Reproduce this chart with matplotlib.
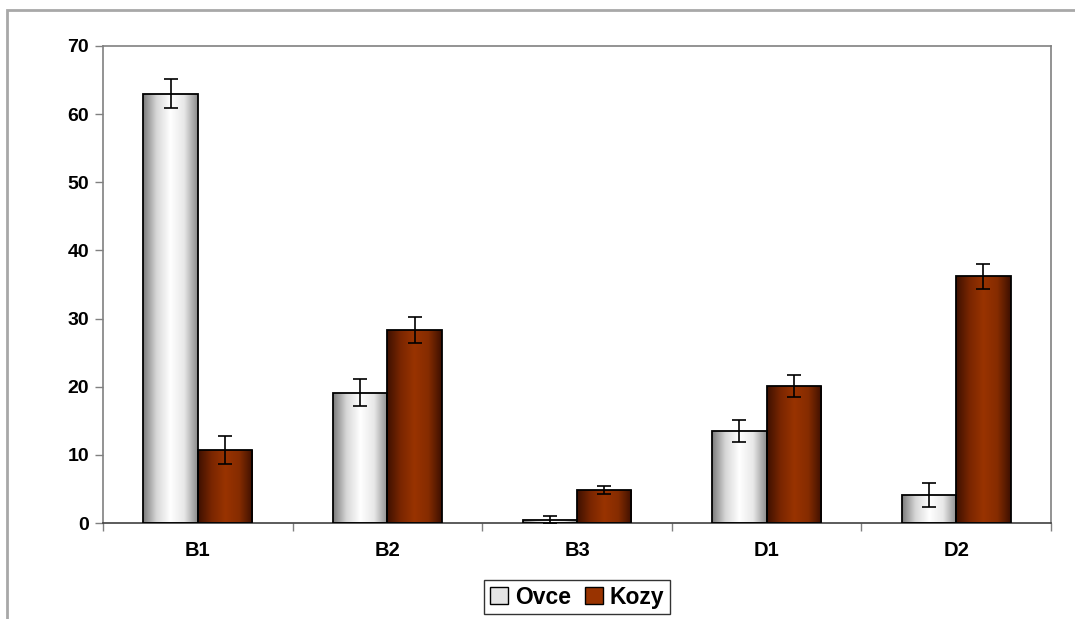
import matplotlib.pyplot as plt
import numpy as np
from matplotlib.patches import Rectangle, Patch
from matplotlib.colors import LinearSegmentedColormap

plt.rcParams['font.family'] = ['Liberation Sans', 'DejaVu Sans']
plt.rcParams['font.weight'] = 'bold'

categories = ['B1', 'B2', 'B3', 'D1', 'D2']
ovce = [63.0, 19.1, 0.4, 13.5, 4.1]
ovce_err = [2.1, 2.0, 0.6, 1.6, 1.8]
kozy = [10.7, 28.3, 4.8, 20.1, 36.2]
kozy_err = [2.0, 1.9, 0.6, 1.6, 1.8]

# gradients: dark edges, light middle
silver = LinearSegmentedColormap.from_list('silver', ['#7a7a7a', '#d8d8d8', '#ffffff', '#e8e8e8', '#8a8a8a'])
rust = LinearSegmentedColormap.from_list('rust', ['#3d1000', '#7a2600', '#993300', '#862c00', '#3d1000'])

fig = plt.figure(figsize=(10.75, 6.19), dpi=100)
ax = fig.add_axes([103 / 1075, 1 - 523 / 619, 948 / 1075, 477 / 619])

x = np.arange(len(categories))
w = 0.287
grad = np.linspace(0, 1, 256).reshape(1, -1)


def gradient_bars(xs, vals, cmap):
    bars = ax.bar(xs, vals, w, facecolor='none', edgecolor='black', linewidth=1.3, zorder=3)
    for b in bars:
        im = ax.imshow(grad, cmap=cmap, aspect='auto', zorder=2,
                       extent=[b.get_x(), b.get_x() + b.get_width(), 0, b.get_height()])
        im.set_clip_path(b)
    return bars


gradient_bars(x - w / 2, ovce, silver)
gradient_bars(x + w / 2, kozy, rust)
ax.errorbar(x - w / 2, ovce, yerr=ovce_err, fmt='none', ecolor='black', elinewidth=1.2, capsize=5, capthick=1.2, zorder=4)
ax.errorbar(x + w / 2, kozy, yerr=kozy_err, fmt='none', ecolor='black', elinewidth=1.2, capsize=5, capthick=1.2, zorder=4)

ax.set_xlim(-0.5, len(categories) - 0.5)
ax.set_ylim(0, 70)
ax.set_yticks(np.arange(0, 71, 10))
ax.tick_params(axis='y', labelsize=14, length=6, width=1, color='#808080', pad=4)
ax.set_xticks(np.arange(-0.5, len(categories), 1))
ax.set_xticklabels([])
ax.tick_params(axis='x', length=6, width=1, color='#808080')
ax.set_xticks(x, minor=True)
ax.set_xticklabels(categories, minor=True, fontsize=14.5)
ax.tick_params(axis='x', which='minor', length=0, pad=13)

for s in ax.spines.values():
    s.set_color('#808080')
    s.set_linewidth(1.2)
ax.spines['bottom'].set_color('#404040')

handles = [Patch(facecolor='#e4e4e4', edgecolor='black', label='Ovce'),
           Patch(facecolor='#993300', edgecolor='black', label='Kozy')]
leg = ax.legend(handles=handles, loc='upper center', bbox_to_anchor=(0.5, -0.095), ncol=2,
                fontsize=16.5, frameon=True, fancybox=False, edgecolor='black',
                handlelength=0.8, handleheight=0.8, handletextpad=0.3, columnspacing=0.6,
                borderpad=0.25)
leg.get_frame().set_linewidth(1.0)

# outer chart border (cropped at right and bottom)
fig.add_artist(Rectangle((7 / 1075, -0.1), 1.2, 1 - 10 / 619 + 0.1, transform=fig.transFigure,
                         fill=False, edgecolor='#a8a8a8', linewidth=2))

fig.savefig('out.png', dpi=100)
